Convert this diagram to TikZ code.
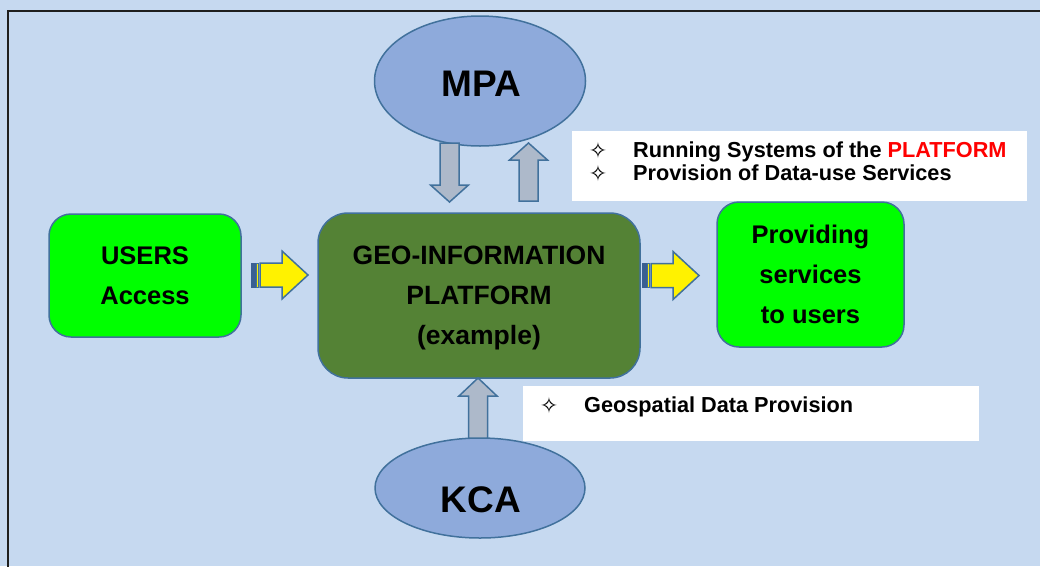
\documentclass[tikz,border=0pt]{standalone}
\usepackage{fontspec}
\setmainfont{Liberation Sans}
\newfontfamily\symfont{DejaVu Sans}
\usetikzlibrary{shapes.geometric}
\definecolor{bg}{RGB}{198,217,240}
\definecolor{ellfill}{RGB}{142,170,219}
\definecolor{edge}{RGB}{65,113,156}
\definecolor{platfill}{RGB}{84,130,53}
\definecolor{grayarrow}{RGB}{173,185,202}
\definecolor{stripe}{RGB}{58,96,146}
\definecolor{framecol}{RGB}{30,30,30}
\pgfdeclarelayer{bglayer}
\pgfsetlayers{bglayer,main}
\newcommand{\varrow}[4]{%
  \draw[grayarr] (#1-9.5,#2) -- (#1-9.5,#3) -- (#1-19,#3) -- (#1,#4) -- (#1+19,#3) -- (#1+9.5,#3) -- (#1+9.5,#2) -- cycle;}
\newcommand{\harrow}[4]{%
  \draw[stripe, fill=stripe, line width=0.6pt] (#1,#4-12) rectangle (#1+5,#4+12);
  \draw[edge, fill=yellow, line width=0.8pt] (#1+5.7,#4-12) rectangle (#1+7.5,#4+12);
  \draw[yelarr] (#1+9,#4-12) -- (#2,#4-12) -- (#2,#4-24) -- (#3,#4) -- (#2,#4+24) -- (#2,#4+12) -- (#1+9,#4+12) -- cycle;}
\begin{document}
\begin{tikzpicture}[x=1pt,y=-1pt,
  ellipsebox/.style={ellipse, draw=edge, line width=1.5pt, fill=ellfill, inner sep=0pt},
  elltext/.style={font=\fontsize{37}{40}\selectfont\bfseries, inner sep=0pt},
  greenbox/.style={rectangle, rounded corners=22pt, draw=edge, line width=1.5pt, fill=green, align=center, inner sep=0pt, font=\fontsize{25.5}{40}\selectfont\bfseries},
  platbox/.style={rectangle, rounded corners=30pt, draw=edge, line width=1.5pt, fill=platfill, align=center, inner sep=0pt, text depth=0pt, font=\fontsize{26.5}{40}\selectfont\bfseries},
  whitebox/.style={rectangle, fill=white, draw=none, inner sep=0pt},
  notetext/.style={anchor=base west, inner sep=0pt, font=\fontsize{21.7}{23}\selectfont\bfseries},
  bullet/.style={inner sep=0pt, font=\symfont\fontsize{22}{22}\selectfont},
  grayarr/.style={draw=edge, line width=1.5pt, fill=grayarrow, line join=miter},
  yelarr/.style={draw=edge, line width=1.5pt, fill=yellow, line join=miter},
]
\useasboundingbox (0,0) rectangle (1040,566);
\begin{pgfonlayer}{bglayer}
  \fill[bg] (0,0) rectangle (1040,566);
  \draw[framecol, line width=2pt] (7.5,570) -- (7.5,11) -- (1045,11);
\end{pgfonlayer}

% white note boxes
\node[whitebox, minimum width=455pt, minimum height=70pt] (note1) at (799.5,166) {};
\node[whitebox, minimum width=456pt, minimum height=55pt] (note2) at (751,413.5) {};
\node[bullet] (b1) at (598,150.5) {✧};
\node[bullet] (b2) at (598,173.5) {✧};
\node[notetext] (n1) at (633,157) {Running Systems of the \textcolor{red}{PLATFORM}};
\node[notetext] (n2) at (633,180) {Provision of Data-use Services};
\node[bullet] (b3) at (549,405.5) {✧};
\node[notetext] (n3) at (584,412) {Geospatial Data Provision};

% main nodes
\node[ellipsebox, minimum width=211pt, minimum height=130pt] (mpa) at (480,81) {};
\node[elltext] (mpat) at (481,83.5) {MPA};
\node[ellipsebox, minimum width=210pt, minimum height=100pt] (kca) at (480,488) {};
\node[elltext] (kcat) at (481,500) {KCA};
\node[greenbox, minimum width=192pt, minimum height=123pt] (users) at (145,275.5) {USERS\\Access};
\node[greenbox, minimum width=187pt, minimum height=145pt] (prov) at (810.5,274.5) {Providing\\services\\to users};
\node[platbox, minimum width=322pt, minimum height=165pt] (plat) at (479,295.5) {GEO-INFORMATION\\PLATFORM\\(example)};

% block arrows between the nodes
\varrow{449.5}{143}{185}{202}
\varrow{528.5}{201}{160}{143}
\varrow{478}{438}{396}{378}
\harrow{251}{282}{308}{275}
\harrow{642}{673}{699}{275.5}
\end{tikzpicture}
\end{document}
